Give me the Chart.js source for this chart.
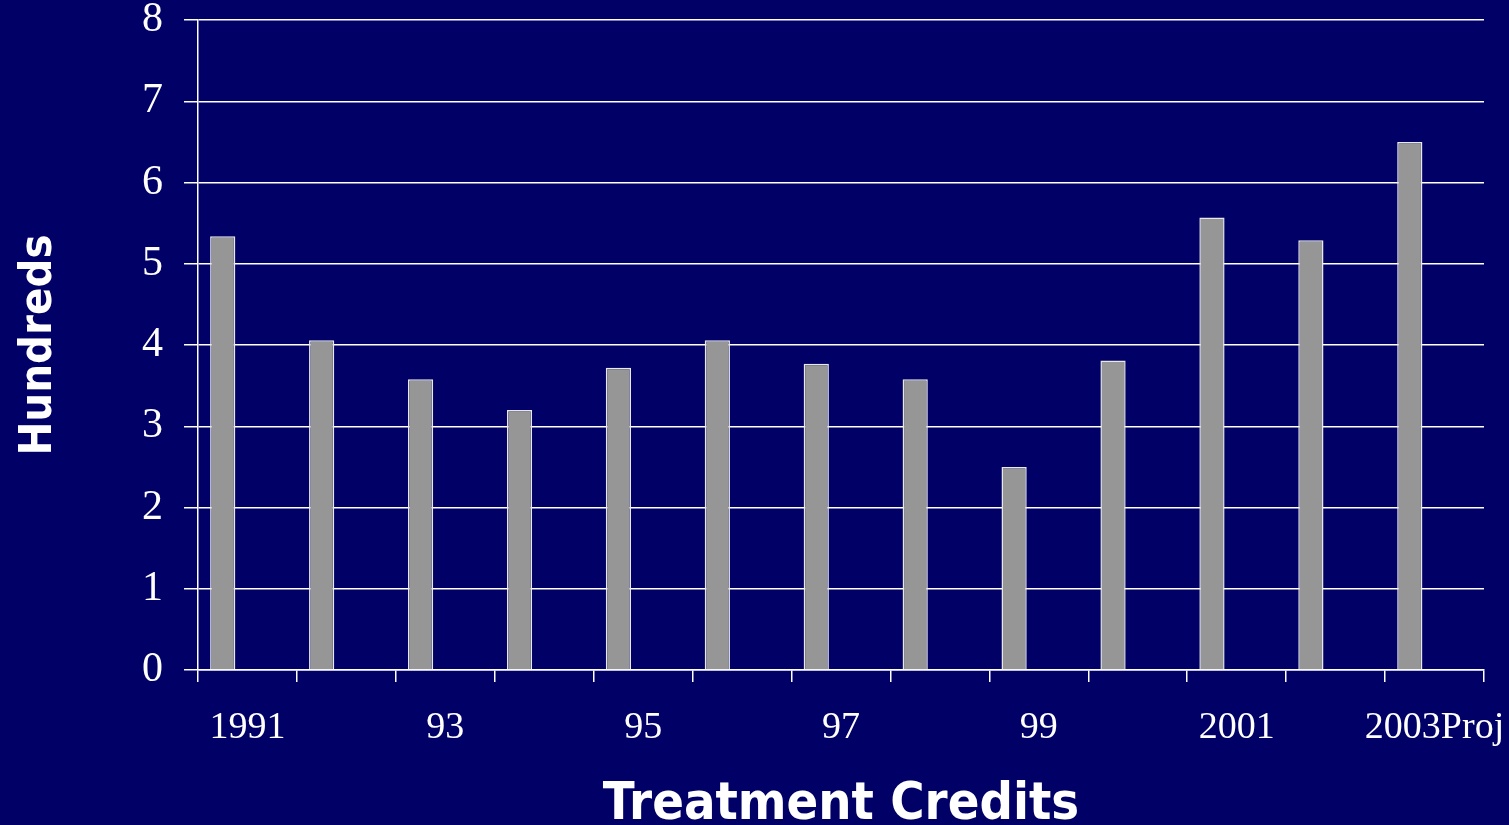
<!DOCTYPE html>
<html>
<head>
<meta charset="utf-8">
<script src="https://cdn.jsdelivr.net/npm/chart.js@4.4.1/dist/chart.umd.min.js"></script>
<style>
  html, body { margin: 0; padding: 0; background: #000066; overflow: hidden; }
  #wrap { width: 1509px; height: 825px; position: relative; }
  canvas { display: block; }
</style>
</head>
<body>
<div id="wrap"><canvas id="c" width="1509" height="825"></canvas></div>
<script>
// ---- data ----
const categories = ['1991', '92', '93', '94', '95', '96', '97', '98', '99', '2000', '2001', '2002', '2003Proj'];
const shownLabels = ['1991', '', '93', '', '95', '', '97', '', '99', '', '2001', '', '2003Proj'];
const treatmentCredits = [5.34, 4.06, 3.58, 3.20, 3.72, 4.06, 3.77, 3.58, 2.50, 3.81, 5.57, 5.29, 6.50];
const secondSeries = [null, null, null, null, null, null, null, null, null, null, null, null, null];
const yTicks = [0, 1, 2, 3, 4, 5, 6, 7, 8];
const yTitle = 'Hundreds';
const xTitle = 'Treatment Credits';

const serif = "'Liberation Serif', 'Times New Roman', serif";
const sansBold = "'DejaVu Sans Condensed', 'DejaVu Sans', Verdana, sans-serif";

new Chart(document.getElementById('c'), {
  type: 'bar',
  data: {
    labels: categories,
    datasets: [
      {
        label: xTitle,
        data: treatmentCredits,
        backgroundColor: '#969696',
        borderColor: '#e8e8e8',
        borderWidth: 1.5,
        borderSkipped: 'bottom',
        barPercentage: 0.51,
        categoryPercentage: 1.0
      },
      {
        label: 'blank',
        data: secondSeries,
        backgroundColor: '#969696',
        barPercentage: 0.51,
        categoryPercentage: 1.0
      }
    ]
  },
  options: {
    responsive: false,
    devicePixelRatio: 1,
    animation: false,
    layout: { padding: { top: 20, right: 25, left: 0, bottom: 0 } },
    plugins: {
      legend: { display: false },
      tooltip: { enabled: false },
      title: { display: false }
    },
    scales: {
      x: {
        grid: {
          display: true,
          drawOnChartArea: false,
          drawTicks: true,
          tickLength: 12,
          color: '#ffffff',
          lineWidth: 1.5,
          offset: true
        },
        border: { display: true, color: '#ffffff', width: 1.5 },
        ticks: {
          autoSkip: false,
          maxRotation: 0,
          minRotation: 0,
          color: '#ffffff',
          padding: 27,
          font: { family: serif, size: 38, lineHeight: 1 },
          callback: (v, i) => shownLabels[i]
        },
        title: {
          display: true,
          text: xTitle,
          color: '#ffffff',
          font: { family: sansBold, size: 52, weight: 'bold', lineHeight: 1 },
          padding: { top: 0, bottom: -6 }
        },
        afterFit: (s) => { s.height = 155; s.paddingLeft = 0; s.paddingRight = 0; }
      },
      y: {
        min: 0,
        max: 8,
        afterBuildTicks: (s) => { s.ticks = yTicks.map(v => ({ value: v })); },
        grid: {
          display: true,
          drawOnChartArea: true,
          drawTicks: true,
          tickLength: 14,
          color: '#ffffff',
          lineWidth: 1.5
        },
        border: { display: true, color: '#ffffff', width: 1.5 },
        ticks: {
          color: '#ffffff',
          padding: 21,
          font: { family: serif, size: 42, lineHeight: 1 }
        },
        title: {
          display: true,
          text: yTitle,
          color: '#ffffff',
          font: { family: sansBold, size: 45, weight: 'bold', lineHeight: 1.2 },
          padding: { top: 12, bottom: 0 }
        },
        afterFit: (s) => { s.width = 198; s.paddingTop = 0; s.paddingBottom = 0; }
      }
    }
  }
});
</script>
</body>
</html>
